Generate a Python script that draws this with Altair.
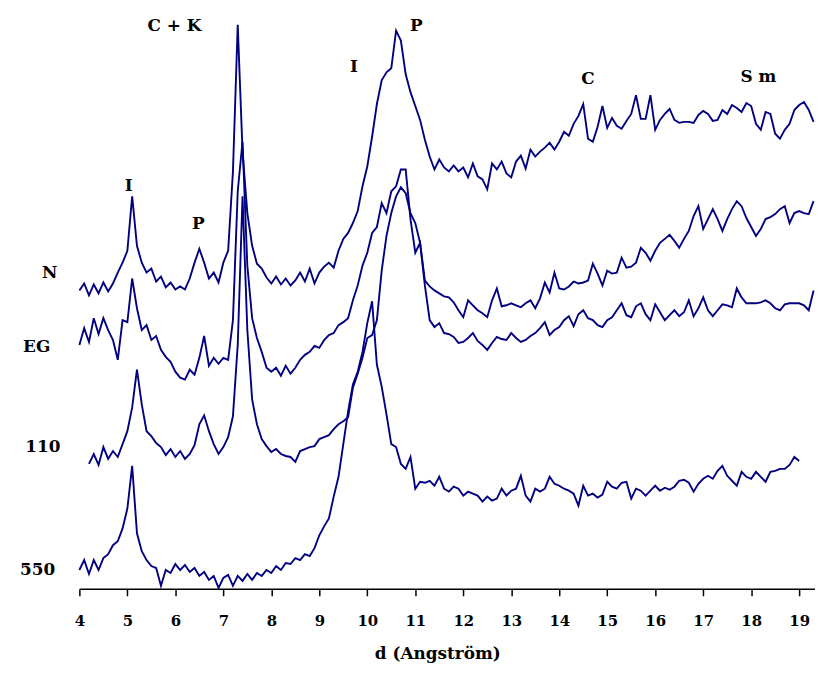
import altair as alt
import pandas as pd

# d-spacing grid (Angström) shared by all patterns
D = [4.0, 4.1, 4.2, 4.3, 4.4, 4.5, 4.6, 4.7, 4.8, 4.9,
     5.0, 5.1, 5.2, 5.3, 5.4, 5.5, 5.6, 5.7, 5.8, 5.9,
     6.0, 6.1, 6.2, 6.3, 6.4, 6.5, 6.6, 6.7, 6.8, 6.9,
     7.0, 7.1, 7.2, 7.3, 7.4, 7.5, 7.6, 7.7, 7.8, 7.9,
     8.0, 8.1, 8.2, 8.3, 8.4, 8.5, 8.6, 8.7, 8.8, 8.9,
     9.0, 9.1, 9.2, 9.3, 9.4, 9.5, 9.6, 9.7, 9.8, 9.9,
     10.0, 10.1, 10.2, 10.3, 10.4, 10.5, 10.6, 10.7, 10.8, 10.9,
     11.0, 11.1, 11.2, 11.3, 11.4, 11.5, 11.6, 11.7, 11.8, 11.9,
     12.0, 12.1, 12.2, 12.3, 12.4, 12.5, 12.6, 12.7, 12.8, 12.9,
     13.0, 13.1, 13.2, 13.3, 13.4, 13.5, 13.6, 13.7, 13.8, 13.9,
     14.0, 14.1, 14.2, 14.3, 14.4, 14.5, 14.6, 14.7, 14.8, 14.9,
     15.0, 15.1, 15.2, 15.3, 15.4, 15.5, 15.6, 15.7, 15.8, 15.9,
     16.0, 16.1, 16.2, 16.3, 16.4, 16.5, 16.6, 16.7, 16.8, 16.9,
     17.0, 17.1, 17.2, 17.3, 17.4, 17.5, 17.6, 17.7, 17.8, 17.9,
     18.0, 18.1, 18.2, 18.3, 18.4, 18.5, 18.6, 18.7, 18.8, 18.9,
     19.0, 19.1, 19.2, 19.3]

# stacked intensities (offset, arbitrary units)
N = [301, 308, 296, 307, 298, 309, 300, 308, 319, 329,
     341, 396, 346, 329, 319, 323, 310, 315, 304, 309,
     302, 305, 302, 313, 329, 343, 329, 313, 319, 309,
     329, 341, 421, 569, 441, 379, 346, 328, 323, 314,
     308, 315, 307, 313, 306, 311, 319, 310, 323, 308,
     319, 325, 329, 324, 341, 353, 359, 369, 381, 406,
     426, 456, 489, 513, 521, 525, 563, 553, 519, 501,
     487, 473, 453, 436, 423, 433, 425, 421, 427, 421,
     425, 415, 429, 416, 413, 403, 429, 423, 431, 419,
     415, 431, 437, 424, 443, 436, 441, 445, 450, 443,
     451, 461, 457, 469, 477, 489, 454, 451, 466, 487,
     465, 475, 467, 464, 472, 479, 498, 474, 474, 498,
     463, 473, 479, 484, 473, 470, 471, 471, 470, 478,
     482, 479, 472, 473, 483, 479, 488, 485, 481, 490,
     487, 469, 463, 481, 479, 459, 454, 463, 469, 483,
     488, 491, 483, 471]

EG = [246, 263, 249, 273, 257, 273, 261, 251, 231, 271,
      269, 313, 283, 261, 266, 251, 255, 241, 234, 229,
      219, 213, 211, 221, 216, 233, 255, 225, 233, 227,
      233, 231, 271, 401, 451, 326, 273, 253, 239, 223,
      219, 223, 215, 225, 217, 223, 231, 236, 239, 245,
      243, 251, 256, 258, 266, 269, 273, 291, 306, 326,
      339, 359, 365, 389, 379, 401, 406, 423, 423, 373,
      339, 349, 311, 305, 301, 298, 295, 294, 289, 281,
      274, 291, 286, 281, 278, 274, 291, 303, 285, 286,
      288, 286, 284, 288, 291, 283, 293, 309, 299, 319,
      303, 302, 305, 310, 308, 309, 311, 328, 318, 306,
      321, 318, 319, 334, 324, 325, 329, 344, 339, 331,
      341, 349, 353, 357, 351, 344, 353, 361, 376, 386,
      363, 373, 383, 373, 361, 373, 383, 391, 386, 374,
      365, 356, 363, 373, 375, 378, 383, 386, 369, 379,
      381, 379, 378, 391]

S110 = [None, None, 126, 136, 125, 143, 131, 139, 133, 146,
        159, 183, 221, 186, 159, 154, 147, 143, 135, 141,
        133, 139, 131, 136, 145, 166, 175, 159, 146, 136,
        143, 153, 174, 246, 396, 261, 191, 166, 151, 144,
        138, 141, 136, 134, 133, 128, 139, 141, 143, 144,
        151, 153, 155, 161, 166, 169, 173, 203, 217, 233,
        253, 256, 271, 321, 356, 379, 396, 405, 399, 379,
        369, 349, 306, 271, 264, 268, 258, 257, 254, 248,
        249, 253, 258, 250, 246, 241, 248, 254, 252, 251,
        258, 253, 249, 251, 255, 258, 263, 269, 256, 261,
        264, 271, 275, 265, 277, 281, 273, 271, 266, 264,
        271, 274, 281, 288, 276, 274, 285, 288, 277, 271,
        287, 279, 271, 276, 281, 275, 279, 291, 275, 283,
        294, 281, 275, 281, 287, 286, 284, 303, 294, 288,
        288, 288, 289, 291, 288, 283, 281, 287, 288, 288,
        288, 286, 281, 301]

S550 = [19, 29, 15, 29, 19, 31, 35, 44, 48, 61,
        81, 124, 56, 38, 29, 23, 21, 3, 19, 16,
        25, 19, 24, 17, 21, 13, 17, 9, 13, 1,
        11, 14, 3, 13, 8, 15, 9, 16, 13, 19,
        16, 23, 19, 26, 25, 31, 29, 35, 33, 41,
        54, 63, 71, 93, 113, 146, 179, 206, 219, 239,
        268, 290, 226, 204, 176, 146, 143, 126, 121, 133,
        101, 108, 107, 109, 104, 113, 101, 98, 103, 101,
        94, 98, 96, 94, 88, 93, 89, 91, 101, 94,
        99, 101, 114, 94, 88, 101, 98, 101, 113, 106,
        104, 101, 99, 96, 84, 104, 94, 96, 92, 95,
        108, 103, 101, 107, 108, 91, 101, 99, 94, 99,
        104, 99, 102, 100, 103, 109, 110, 107, 98, 106,
        111, 114, 111, 119, 124, 114, 109, 104, 118, 113,
        111, 118, 113, 108, 118, 119, 121, 121, 125, 133,
        129, None, None, None]

SERIES = {"N": N, "EG": EG, "110": S110, "550": S550}

TICKS = list(range(4, 20))

SAMPLE_LABELS = ["N", "EG", "110", "550"]
SAMPLE_D = [3.38, 3.11, 3.24, 3.13]
SAMPLE_I = [319, 244, 143, 19]

PEAK_LABELS = ["I", "P", "C + K", "I", "P", "C", "S m"]
PEAK_D = [5.03, 6.48, 5.98, 9.72, 11.02, 14.6, 18.15]
PEAK_I = [406, 368, 568, 526, 568, 514, 516]

rows = []
for name, vals in SERIES.items():
    for d, v in zip(D, vals):
        if v is not None:
            rows.append({"d": d, "intensity": v, "series": name})
df = pd.DataFrame(rows)

samples = pd.DataFrame({"d": SAMPLE_D, "intensity": SAMPLE_I, "label": SAMPLE_LABELS})
peaks = pd.DataFrame({"d": PEAK_D, "intensity": PEAK_I, "label": PEAK_LABELS})

FONT = "DejaVu Serif"

x = alt.X(
    "d:Q",
    scale=alt.Scale(domain=[4, 19.33], nice=False, zero=False),
    axis=alt.Axis(
        values=TICKS, format="d", grid=False,
        domainColor="black", domainWidth=1.5,
        tickColor="black", tickWidth=1.5, tickSize=7,
        labelFont=FONT, labelFontWeight="bold", labelFontSize=15,
        labelColor="black", labelPadding=18, labelFlush=False, labelOverlap=False,
        title="d (Angström)", titleFont=FONT, titleFontSize=17,
        titleFontWeight="bold", titleColor="black",
        titleX=361, titleY=65, titleBaseline="middle", titleAlign="center",
    ),
)
y = alt.Y("intensity:Q", scale=alt.Scale(domain=[0, 581], nice=False, zero=False), axis=None)

lines = alt.Chart(df).mark_line(color="#000080", strokeWidth=1.9).encode(
    x=x, y=y, detail="series:N"
)

peak_text = alt.Chart(peaks).mark_text(
    font=FONT, fontWeight="bold", fontSize=17, color="black",
    align="center", baseline="middle"
).encode(x=x, y=y, text="label:N")

sample_text = alt.Chart(samples).mark_text(
    font=FONT, fontWeight="bold", fontSize=17, color="black",
    align="center", baseline="middle"
).encode(x=x, y=y, text="label:N")

chart = alt.layer(lines, peak_text, sample_text).properties(
    width=742,
    height=581,
    autosize=alt.AutoSizeParams(type="none"),
    padding={"left": 72, "top": 2, "right": 0, "bottom": 78},
    background="white",
).configure_view(stroke=None)

chart.save("out.html", embed_options={"renderer": "svg", "actions": False})
